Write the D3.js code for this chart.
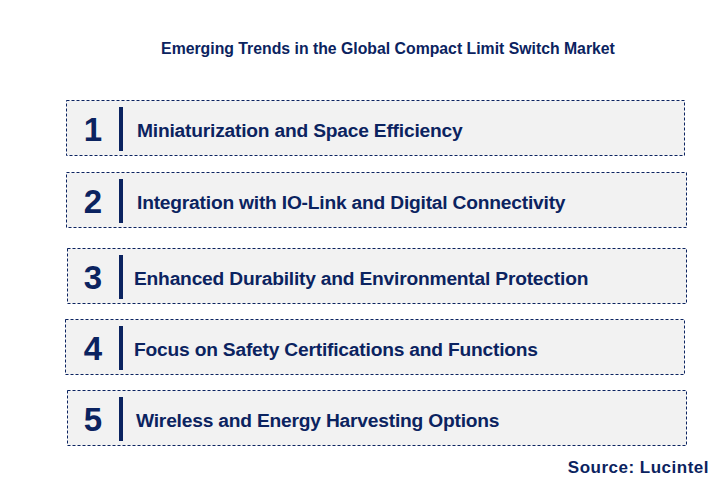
<!DOCTYPE html><html><head><meta charset="utf-8"><script src="https://d3js.org/d3.v7.min.js"></script>
<style>body{margin:0;background:#fff}</style></head><body><svg id="c" width="712" height="481"></svg>
<script>
const title="Emerging Trends in the Global Compact Limit Switch Market";
const numbers=["1","2","3","4","5"];
const trends=["Miniaturization and Space Efficiency","Integration with IO-Link and Digital Connectivity","Enhanced Durability and Environmental Protection","Focus on Safety Certifications and Functions","Wireless and Energy Harvesting Options"];
const boxLeft=[66,66,67,65,67], boxRight=[684,686,686,684,686], boxTop=[100,172,248,319,390];
const textX=[137,137,134,134,136];
const source="Source: Lucintel";
const svg=d3.select("#c"), navy="#0b2360";
const F="Liberation Sans, Arial, sans-serif";
svg.append("text").attr("x",388).attr("y",54).attr("text-anchor","middle").attr("font-family",F).attr("font-weight","bold").attr("font-size",15.8).attr("fill",navy).text(title);
const g=svg.selectAll("g.r").data(trends).join("g");
g.append("rect").attr("x",(d,i)=>boxLeft[i]+0.5).attr("y",(d,i)=>boxTop[i]+0.5).attr("width",(d,i)=>boxRight[i]-boxLeft[i]).attr("height",55).attr("fill","#f2f2f2").attr("stroke",navy).attr("stroke-width",1).attr("stroke-dasharray","3,2");
g.append("text").attr("x",93).attr("y",(d,i)=>boxTop[i]+41).attr("text-anchor","middle").attr("font-family",F).attr("font-weight","bold").attr("font-size",33).attr("fill",navy).text((d,i)=>numbers[i]);
g.append("line").attr("x1",121).attr("x2",121).attr("y1",(d,i)=>boxTop[i]+7).attr("y2",(d,i)=>boxTop[i]+51).attr("stroke",navy).attr("stroke-width",4);
g.append("text").attr("x",(d,i)=>textX[i]).attr("y",(d,i)=>boxTop[i]+37).attr("font-family",F).attr("font-weight","bold").attr("font-size",19.2).attr("fill",navy).attr("letter-spacing",-0.2).text(d=>d);
svg.append("text").attr("x",709).attr("y",473).attr("text-anchor","end").attr("font-family",F).attr("font-weight","bold").attr("font-size",17).attr("letter-spacing",0.5).attr("fill",navy).text(source);
</script></body></html>
